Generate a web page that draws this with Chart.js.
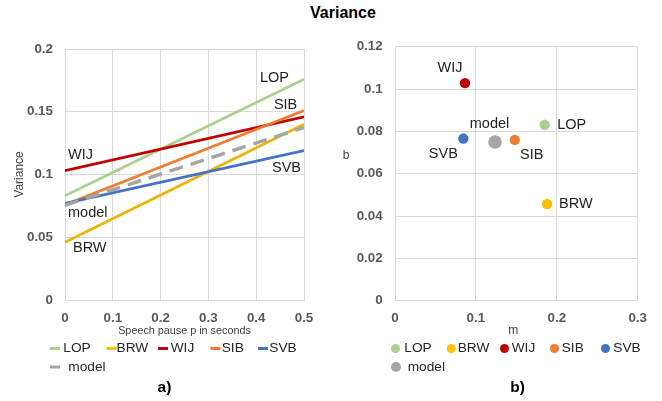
<!DOCTYPE html>
<html><head><meta charset="utf-8">
<script src="https://cdn.jsdelivr.net/npm/chart.js@4"></script>
<style>
html,body{margin:0;padding:0;background:#fff;width:662px;height:401px;overflow:hidden;}
#title{position:absolute;left:243px;width:200px;top:4px;line-height:18px;text-align:center;font-weight:bold;font-size:16px;font-family:"Liberation Sans",Arial,sans-serif;color:#000;}
#wrapA{position:absolute;left:0;top:0;width:331px;height:401px;}
#wrapB{position:absolute;left:331px;top:0;width:331px;height:401px;}
canvas{display:block;}
</style></head><body>
<div id="title">Variance</div>
<div id="wrapA"><canvas id="chartA" width="331" height="401"></canvas></div>
<div id="wrapB"><canvas id="chartB" width="331" height="401"></canvas></div>
<script>
// ---- data ----
const seriesNames = ['LOP', 'BRW', 'WIJ', 'SIB', 'SVB', 'model'];
const pauseSeconds = [0, 0.5];
const lopLine = [0.083, 0.176];
const brwLine = [0.046, 0.140];
const wijLine = [0.103, 0.146];
const sibLine = [0.076, 0.151];
const svbLine = [0.077, 0.119];
const modelLine = [0.0755, 0.1375];
const slopeM = [0.185, 0.188, 0.0865, 0.148, 0.0845, 0.1236];
const interceptB = [0.0831, 0.0457, 0.1028, 0.0760, 0.0766, 0.0750];
const xTicksA = ['0', '0.1', '0.2', '0.3', '0.4', '0.5'];
const yTicksA = ['0', '0.05', '0.1', '0.15', '0.2'];
const xTicksB = ['0', '0.1', '0.2', '0.3'];
const yTicksB = ['0', '0.02', '0.04', '0.06', '0.08', '0.1', '0.12'];

// ---- styles / layout ----
const FAM = '"Liberation Sans", Arial, sans-serif';
const pointColors = ['#A9D18E', '#FFC000', '#C00000', '#ED7D31', '#4472C4', '#A5A5A5'];
const lineColors = ['#A9D18E', '#EDB300', '#C00000', '#ED7D31', '#4472C4', '#A5A5A5'];
const GRID = '#D9D9D9';
const TICK = '#595959';
const TXT = '#1F1F1F';
// label anchors for panel a (data units, left-aligned text)
const labelAnchorsA = [[0.408, 0.1767], [0.0167, 0.0412], [0.0063, 0.1155], [0.437, 0.1554], [0.433, 0.1054], [0.0063, 0.0696]];
// label offsets for panel b (pixels from point) and alignment
const labelOffsetsB = [[12.6, 0, 'left'], [12, 0, 'left'], [-15, -15, 'center'], [17, 15, 'center'], [-20, 15, 'center'], [-5.5, -17.7, 'center']];
// legend layout: [markerX, textX, rowY]
const legendA = [[50, 63.3, 348.5], [106.5, 116.5, 348.5], [158, 170.7, 348.5], [210.5, 221.7, 348.5], [258, 269.3, 348.5], [50, 68.3, 367]];
const legendB = [[64.5, 73.3, 348.5], [120.3, 126.7, 348.5], [173.5, 180.7, 348.5], [223.5, 230.7, 348.5], [274.5, 282.3, 348.5], [65, 76.7, 367]];

function txt(ctx, s, x, y, size, weight, color, align) {
  ctx.save();
  ctx.font = (weight || 'normal') + ' ' + size + 'px ' + FAM;
  ctx.fillStyle = color;
  ctx.textAlign = align || 'left';
  ctx.textBaseline = 'middle';
  ctx.fillText(s, x, y);
  ctx.restore();
}

const annotA = {
  id: 'annotA',
  afterDraw(chart) {
    const ctx = chart.ctx, xs = chart.scales.x, ys = chart.scales.y;
    chart.data.datasets.forEach((ds, i) => {
      const a = labelAnchorsA[i];
      txt(ctx, ds.label, xs.getPixelForValue(a[0]), ys.getPixelForValue(a[1]), 14.5, 'normal', TXT, 'left');
      const l = legendA[i];
      ctx.save();
      ctx.strokeStyle = pointColors[i];
      ctx.lineWidth = 3;
      ctx.beginPath();
      ctx.moveTo(l[0], l[2]);
      ctx.lineTo(l[0] + 10, l[2]);
      ctx.stroke();
      ctx.restore();
      txt(ctx, ds.label, l[1], l[2], 13.7, 'normal', '#262626', 'left');
    });
    txt(ctx, 'a)', 164.5, 388, 15.5, 'bold', '#000', 'center');
  }
};

const annotB = {
  id: 'annotB',
  afterDraw(chart) {
    const ctx = chart.ctx, xs = chart.scales.x, ys = chart.scales.y;
    chart.data.datasets.forEach((ds, i) => {
      const pt = ds.data[0];
      const o = labelOffsetsB[i];
      txt(ctx, ds.label, xs.getPixelForValue(pt.x) + o[0], ys.getPixelForValue(pt.y) + o[1], 14.5, 'normal', TXT, o[2]);
      const l = legendB[i];
      ctx.save();
      ctx.fillStyle = pointColors[i];
      ctx.beginPath();
      ctx.arc(l[0], l[2], i === 5 ? 5 : 4.5, 0, Math.PI * 2);
      ctx.fill();
      ctx.restore();
      txt(ctx, ds.label, l[1], l[2], 13.7, 'normal', '#262626', 'left');
    });
    txt(ctx, 'm', 182.3, 331, 12, 'normal', '#404040', 'center');
    txt(ctx, 'b', 15, 156, 12, 'normal', '#404040', 'center');
    txt(ctx, 'b)', 186.5, 388, 15.5, 'bold', '#000', 'center');
  }
};

const tickFont = {family: FAM, size: 13.4, weight: 'bold'};

const lineSeries = [lopLine, brwLine, wijLine, sibLine, svbLine, modelLine];
new Chart(document.getElementById('chartA'), {
  type: 'line',
  data: {
    datasets: lineSeries.map((vals, i) => ({
      label: seriesNames[i],
      data: pauseSeconds.map((p, k) => ({x: p, y: vals[k]})),
      borderColor: lineColors[i],
      backgroundColor: lineColors[i],
      borderWidth: i === 5 ? 3.5 : 2.75,
      borderDash: i === 5 ? [14, 8] : [],
      pointRadius: 0,
      pointHoverRadius: 0,
      fill: false,
      tension: 0,
      order: 6 - i
    }))
  },
  options: {
    responsive: false, animation: false, devicePixelRatio: 1,
    layout: {padding: {top: 49, right: 27, bottom: 63, left: 0}},
    plugins: {legend: {display: false}, tooltip: {enabled: false}, title: {display: false}},
    scales: {
      x: {
        type: 'linear', min: 0, max: 0.5,
        ticks: {stepSize: 0.1, autoSkip: false, maxRotation: 0, padding: 10, color: TICK, font: tickFont,
          callback: (v, i) => xTicksA[i] !== undefined ? xTicksA[i] : v},
        grid: {color: GRID, lineWidth: 1, drawTicks: false},
        border: {color: GRID},
        title: {display: true, text: 'Speech pause p in seconds', color: '#404040', font: {family: FAM, size: 10.8}, padding: {top: 0, bottom: 0}},
        afterFit: s => { s.height = 38; }
      },
      y: {
        type: 'linear', min: 0, max: 0.2,
        ticks: {stepSize: 0.05, autoSkip: false, padding: 12, color: TICK, font: tickFont,
          callback: (v, i) => yTicksA[i] !== undefined ? yTicksA[i] : v},
        grid: {color: GRID, lineWidth: 1, drawTicks: false},
        border: {color: GRID},
        title: {display: true, text: 'Variance', color: '#404040', font: {family: FAM, size: 12}, padding: {top: 12, bottom: 0}},
        afterFit: s => { s.width = 65; }
      }
    }
  },
  plugins: [annotA]
});

new Chart(document.getElementById('chartB'), {
  type: 'scatter',
  data: {
    datasets: seriesNames.map((n, i) => ({
      label: n,
      data: [{x: slopeM[i], y: interceptB[i]}],
      backgroundColor: pointColors[i],
      borderColor: pointColors[i],
      borderWidth: 0,
      pointRadius: i === 5 ? 6.8 : 5.2,
      pointHoverRadius: i === 5 ? 6.8 : 5.2
    }))
  },
  options: {
    responsive: false, animation: false, devicePixelRatio: 1,
    layout: {padding: {top: 46.7, right: 24.3, bottom: 62.3, left: 0}},
    plugins: {legend: {display: false}, tooltip: {enabled: false}, title: {display: false}},
    scales: {
      x: {
        type: 'linear', min: 0, max: 0.3,
        ticks: {stepSize: 0.1, autoSkip: false, maxRotation: 0, padding: 10, color: TICK, font: tickFont,
          callback: (v, i) => xTicksB[i] !== undefined ? xTicksB[i] : v},
        grid: {color: GRID, lineWidth: 1, drawTicks: false},
        border: {color: GRID},
        afterFit: s => { s.height = 38; }
      },
      y: {
        type: 'linear', min: 0, max: 0.12,
        ticks: {stepSize: 0.02, autoSkip: false, padding: 12.3, color: TICK, font: tickFont,
          callback: (v, i) => yTicksB[i] !== undefined ? yTicksB[i] : v},
        grid: {color: GRID, lineWidth: 1, drawTicks: false},
        border: {color: GRID},
        afterFit: s => { s.width = 64; }
      }
    }
  },
  plugins: [annotB]
});
</script>
</body></html>
